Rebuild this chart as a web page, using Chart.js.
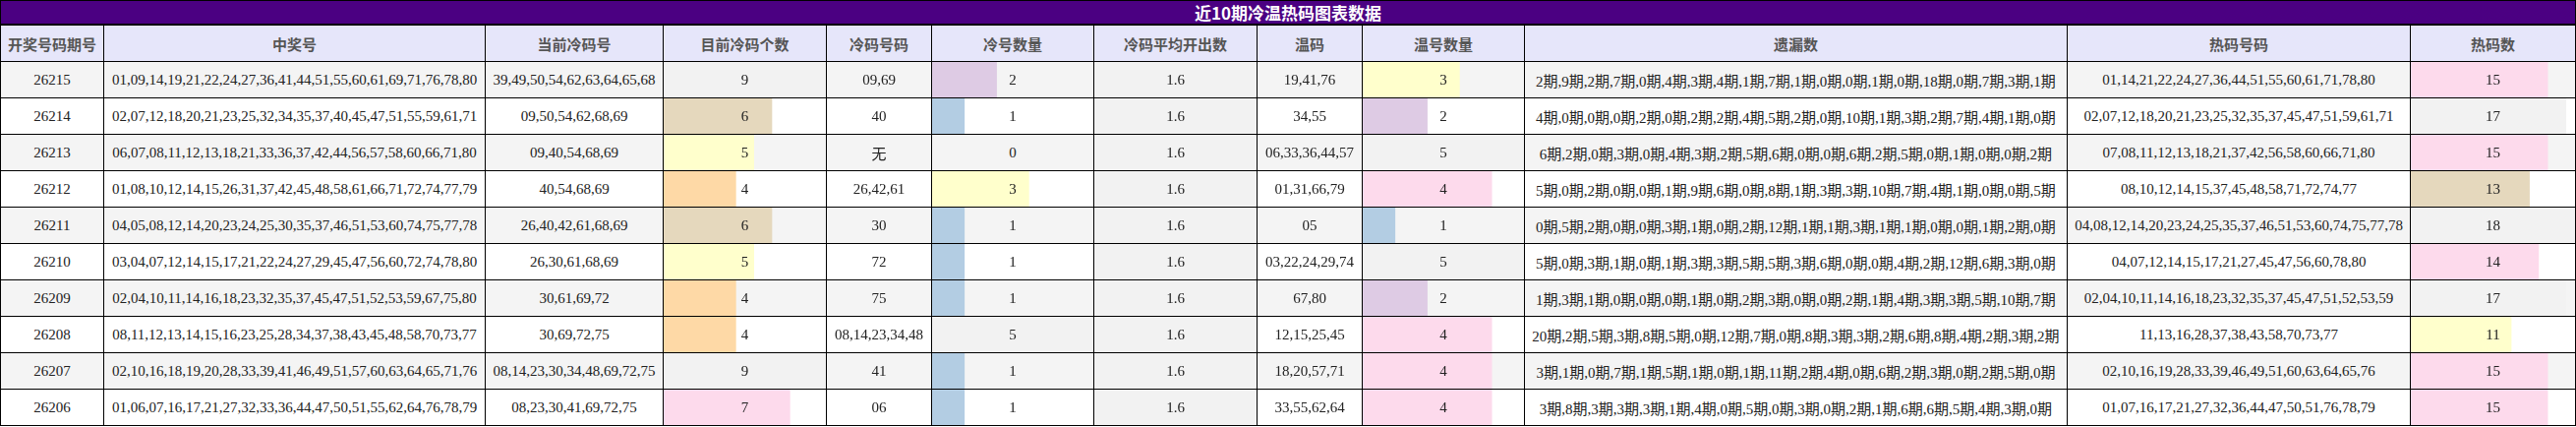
<!DOCTYPE html>
<html>
<head>
<meta charset="utf-8">
<script src="https://cdn.jsdelivr.net/npm/chart.js@4"></script>
<style>
  body { margin: 0; background: #fff; }
  #wrap { position: relative; width: 2620px; height: 434px; overflow: hidden; }
  .cell { position: absolute; box-sizing: border-box; border-right: 1px solid #000; border-bottom: 1px solid #000;
          display: flex; align-items: center; justify-content: center; white-space: nowrap; }
  .cell canvas { position: absolute; left: 0; top: 0; }
  .cell span { position: relative; }
  .hd { background: #e6e6fa; color: #555; font: bold 15px "Noto Sans CJK SC", sans-serif; }
  .bd { color: #222; font: 15px "Liberation Serif", "Noto Sans CJK SC", serif; }
  #title { position: absolute; left: 0; top: 0; width: 2620px; height: 26px; box-sizing: border-box;
           background: #4b0082; color: #fff; font: bold 17px "Noto Sans CJK SC", sans-serif;
           display: flex; align-items: center; justify-content: center; border: 1px solid #000; border-bottom: 2px solid #000; }
</style>
</head>
<body>
<div id="wrap"><div id="title">近10期冷温热码图表数据</div></div>
<script>
// 数据
const headers = ["开奖号码期号", "中奖号", "当前冷码号", "目前冷码个数", "冷码号码", "冷号数量", "冷码平均开出数", "温码", "温号数量", "遗漏数", "热码号码", "热码数"];
const issues = ["26215", "26214", "26213", "26212", "26211", "26210", "26209", "26208", "26207", "26206"];
const winning = [
  "01,09,14,19,21,22,24,27,36,41,44,51,55,60,61,69,71,76,78,80",
  "02,07,12,18,20,21,23,25,32,34,35,37,40,45,47,51,55,59,61,71",
  "06,07,08,11,12,13,18,21,33,36,37,42,44,56,57,58,60,66,71,80",
  "01,08,10,12,14,15,26,31,37,42,45,48,58,61,66,71,72,74,77,79",
  "04,05,08,12,14,20,23,24,25,30,35,37,46,51,53,60,74,75,77,78",
  "03,04,07,12,14,15,17,21,22,24,27,29,45,47,56,60,72,74,78,80",
  "02,04,10,11,14,16,18,23,32,35,37,45,47,51,52,53,59,67,75,80",
  "08,11,12,13,14,15,16,23,25,28,34,37,38,43,45,48,58,70,73,77",
  "02,10,16,18,19,20,28,33,39,41,46,49,51,57,60,63,64,65,71,76",
  "01,06,07,16,17,21,27,32,33,36,44,47,50,51,55,62,64,76,78,79"];
const coldNow = ["39,49,50,54,62,63,64,65,68", "09,50,54,62,68,69", "09,40,54,68,69", "40,54,68,69", "26,40,42,61,68,69",
  "26,30,61,68,69", "30,61,69,72", "30,69,72,75", "08,14,23,30,34,48,69,72,75", "08,23,30,41,69,72,75"];
const coldCount = [9, 6, 5, 4, 6, 5, 4, 4, 9, 7];
const coldNums = ["09,69", "40", "无", "26,42,61", "30", "72", "75", "08,14,23,34,48", "41", "06"];
const coldQty = [2, 1, 0, 3, 1, 1, 1, 5, 1, 1];
const coldAvg = [1.6, 1.6, 1.6, 1.6, 1.6, 1.6, 1.6, 1.6, 1.6, 1.6];
const warmNums = ["19,41,76", "34,55", "06,33,36,44,57", "01,31,66,79", "05", "03,22,24,29,74", "67,80", "12,15,25,45", "18,20,57,71", "33,55,62,64"];
const warmQty = [3, 2, 5, 4, 1, 5, 2, 4, 4, 4];
const missing = [
  "2期,9期,2期,7期,0期,4期,3期,4期,1期,7期,1期,0期,0期,1期,0期,18期,0期,7期,3期,1期",
  "4期,0期,0期,0期,2期,0期,2期,2期,4期,5期,2期,0期,10期,1期,3期,2期,7期,4期,1期,0期",
  "6期,2期,0期,3期,0期,4期,3期,2期,5期,6期,0期,0期,6期,2期,5期,0期,1期,0期,0期,2期",
  "5期,0期,2期,0期,0期,1期,9期,6期,0期,8期,1期,3期,3期,10期,7期,4期,1期,0期,0期,5期",
  "0期,5期,2期,0期,0期,3期,1期,0期,2期,12期,1期,1期,3期,1期,1期,0期,0期,1期,2期,0期",
  "5期,0期,3期,1期,0期,1期,3期,3期,5期,5期,3期,6期,0期,0期,4期,2期,12期,6期,3期,0期",
  "1期,3期,1期,0期,0期,0期,1期,0期,2期,3期,0期,0期,2期,1期,4期,3期,3期,5期,10期,7期",
  "20期,2期,5期,3期,8期,5期,0期,12期,7期,0期,8期,3期,3期,2期,6期,8期,4期,2期,3期,2期",
  "3期,1期,0期,7期,1期,5期,1期,0期,1期,11期,2期,4期,0期,6期,2期,3期,0期,2期,5期,0期",
  "3期,8期,3期,3期,3期,1期,4期,0期,5期,0期,3期,0期,2期,1期,6期,6期,5期,4期,3期,0期"];
const hotNums = [
  "01,14,21,22,24,27,36,44,51,55,60,61,71,78,80",
  "02,07,12,18,20,21,23,25,32,35,37,45,47,51,59,61,71",
  "07,08,11,12,13,18,21,37,42,56,58,60,66,71,80",
  "08,10,12,14,15,37,45,48,58,71,72,74,77",
  "04,08,12,14,20,23,24,25,35,37,46,51,53,60,74,75,77,78",
  "04,07,12,14,15,17,21,27,45,47,56,60,78,80",
  "02,04,10,11,14,16,18,23,32,35,37,45,47,51,52,53,59",
  "11,13,16,28,37,38,43,58,70,73,77",
  "02,10,16,19,28,33,39,46,49,51,60,63,64,65,76",
  "01,07,16,17,21,27,32,36,44,47,50,51,76,78,79"];
const hotQty = [15, 17, 15, 13, 18, 14, 17, 11, 15, 15];

// 样式
const colEdges = [0, 106, 494, 675, 841, 948, 1113, 1279, 1386, 1551, 2103, 2452, 2620];
const pastel = { gray: "#f2f2f2", pink: "#fddaec", tan: "#e5d8bd", yellow: "#ffffcc", orange: "#fed9a6", lavender: "#decbe4", blue: "#b3cde3" };
const coldCountColor = { 9: pastel.gray, 7: pastel.pink, 6: pastel.tan, 5: pastel.yellow, 4: pastel.orange };
const qtyColor = { 5: pastel.gray, 4: pastel.pink, 3: pastel.yellow, 2: pastel.lavender, 1: pastel.blue, 0: pastel.gray };
const hotColor = { 18: pastel.gray, 17: pastel.gray, 15: pastel.pink, 14: pastel.pink, 13: pastel.tan, 11: pastel.yellow };

const columns = [
  { vals: issues }, { vals: winning }, { vals: coldNow },
  { vals: coldCount, bar: true, colors: coldCountColor },
  { vals: coldNums },
  { vals: coldQty, bar: true, colors: qtyColor },
  { vals: coldAvg, bar: true, colors: { 1.6: pastel.gray } },
  { vals: warmNums },
  { vals: warmQty, bar: true, colors: qtyColor },
  { vals: missing }, { vals: hotNums },
  { vals: hotQty, bar: true, colors: hotColor }
];

const wrap = document.getElementById('wrap');
const TITLE_H = 26, HEAD_H = 37, ROW_H = 37;

function addCell(x, y, w, h, cls, bg) {
  const d = document.createElement('div');
  d.className = 'cell ' + cls;
  d.style.left = x + 'px'; d.style.top = y + 'px';
  d.style.width = w + 'px'; d.style.height = h + 'px';
  if (bg) d.style.background = bg;
  if (x === 0) d.style.borderLeft = '1px solid #000';
  wrap.appendChild(d);
  return d;
}

headers.forEach((t, c) => {
  const d = addCell(colEdges[c], TITLE_H, colEdges[c + 1] - colEdges[c], HEAD_H, 'hd');
  d.innerHTML = '<span>' + t + '</span>';
});

columns.forEach((col, c) => {
  const w = colEdges[c + 1] - colEdges[c];
  const max = col.bar ? Math.max(...col.vals) : 0;
  col.vals.forEach((v, r) => {
    const y = TITLE_H + HEAD_H + r * ROW_H;
    const d = addCell(colEdges[c], y, w, ROW_H, 'bd', r % 2 === 0 ? '#f4f4f4' : '#ffffff');
    if (col.bar && v > 0) {
      const cv = document.createElement('canvas');
      cv.width = w - 1; cv.height = ROW_H - 1;
      d.appendChild(cv);
      new Chart(cv, {
        type: 'bar',
        data: { labels: [''], datasets: [{ data: [v], backgroundColor: col.colors[v], borderWidth: 0,
                barPercentage: 1, categoryPercentage: 1 }] },
        options: {
          indexAxis: 'y', responsive: false, animation: false, devicePixelRatio: 1,
          layout: { padding: 0 },
          plugins: { legend: { display: false }, tooltip: { enabled: false } },
          scales: { x: { display: false, min: 0, max: max }, y: { display: false } }
        }
      });
    }
    const s = document.createElement('span');
    s.textContent = v;
    d.appendChild(s);
  });
});
</script>
</body>
</html>
